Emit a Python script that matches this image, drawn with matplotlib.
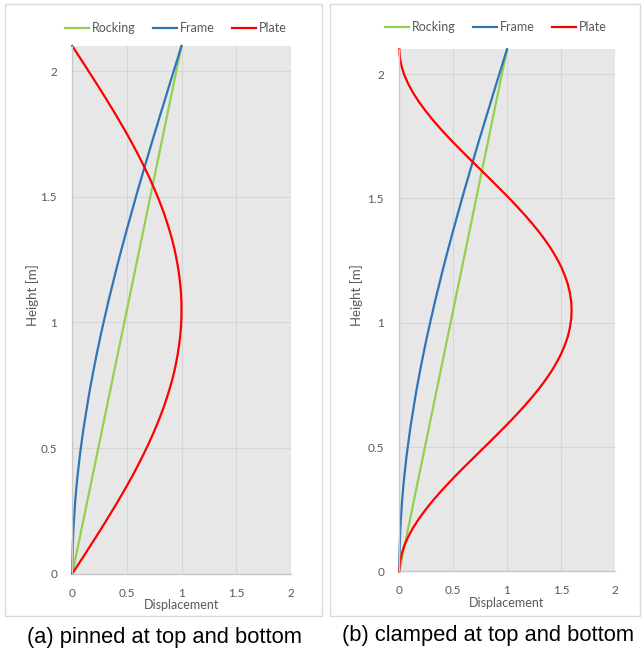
import matplotlib
matplotlib.use("Agg")
import matplotlib.pyplot as plt
from matplotlib.patches import Rectangle
from matplotlib.lines import Line2D

# Heights along the plate [m]
height = [0.000, 0.035, 0.070, 0.105, 0.140, 0.175, 0.210, 0.245, 0.280, 0.315,
          0.350, 0.385, 0.420, 0.455, 0.490, 0.525, 0.560, 0.595, 0.630, 0.665,
          0.700, 0.735, 0.770, 0.805, 0.840, 0.875, 0.910, 0.945, 0.980, 1.015,
          1.050, 1.085, 1.120, 1.155, 1.190, 1.225, 1.260, 1.295, 1.330, 1.365,
          1.400, 1.435, 1.470, 1.505, 1.540, 1.575, 1.610, 1.645, 1.680, 1.715,
          1.750, 1.785, 1.820, 1.855, 1.890, 1.925, 1.960, 1.995, 2.030, 2.065,
          2.100]

# Displacement profiles (normalised)
rocking = [0.000, 0.017, 0.033, 0.050, 0.067, 0.083, 0.100, 0.117, 0.133, 0.150,
           0.167, 0.183, 0.200, 0.217, 0.233, 0.250, 0.267, 0.283, 0.300, 0.317,
           0.333, 0.350, 0.367, 0.383, 0.400, 0.417, 0.433, 0.450, 0.467, 0.483,
           0.500, 0.517, 0.533, 0.550, 0.567, 0.583, 0.600, 0.617, 0.633, 0.650,
           0.667, 0.683, 0.700, 0.717, 0.733, 0.750, 0.767, 0.783, 0.800, 0.817,
           0.833, 0.850, 0.867, 0.883, 0.900, 0.917, 0.933, 0.950, 0.967, 0.983,
           1.000]
frame = [0.000, 0.000, 0.002, 0.004, 0.007, 0.010, 0.015, 0.020, 0.025, 0.032,
         0.039, 0.047, 0.056, 0.065, 0.075, 0.086, 0.097, 0.109, 0.122, 0.135,
         0.148, 0.162, 0.177, 0.192, 0.208, 0.224, 0.241, 0.258, 0.276, 0.294,
         0.313, 0.331, 0.351, 0.371, 0.391, 0.411, 0.432, 0.453, 0.475, 0.496,
         0.519, 0.541, 0.564, 0.586, 0.609, 0.633, 0.656, 0.680, 0.704, 0.728,
         0.752, 0.777, 0.801, 0.826, 0.851, 0.875, 0.900, 0.925, 0.950, 0.975,
         1.000]
plate_pinned = [0.000, 0.052, 0.105, 0.156, 0.208, 0.259, 0.309, 0.358, 0.407, 0.454,
                0.500, 0.545, 0.588, 0.629, 0.669, 0.707, 0.743, 0.777, 0.809, 0.839,
                0.866, 0.891, 0.914, 0.934, 0.951, 0.966, 0.978, 0.988, 0.995, 0.999,
                1.000, 0.999, 0.995, 0.988, 0.978, 0.966, 0.951, 0.934, 0.914, 0.891,
                0.866, 0.839, 0.809, 0.777, 0.743, 0.707, 0.669, 0.629, 0.588, 0.545,
                0.500, 0.454, 0.407, 0.358, 0.309, 0.259, 0.208, 0.156, 0.105, 0.052,
                0.000]
plate_clamped = [0.000, 0.006, 0.022, 0.048, 0.084, 0.128, 0.180, 0.239, 0.303, 0.373,
                 0.447, 0.524, 0.604, 0.686, 0.768, 0.850, 0.931, 1.011, 1.088, 1.162,
                 1.232, 1.298, 1.358, 1.413, 1.461, 1.503, 1.537, 1.565, 1.584, 1.596,
                 1.600, 1.596, 1.584, 1.565, 1.537, 1.503, 1.461, 1.413, 1.358, 1.298,
                 1.232, 1.162, 1.088, 1.011, 0.931, 0.850, 0.768, 0.686, 0.604, 0.524,
                 0.447, 0.373, 0.303, 0.239, 0.180, 0.128, 0.084, 0.048, 0.022, 0.006,
                 0.000]

series_names = ["Rocking", "Frame", "Plate"]
series_colors = ["#92D050", "#2E75B6", "#FF0000"]
x_ticks = [0, 0.5, 1, 1.5, 2]
x_tick_labels = ["0", "0.5", "1", "1.5", "2"]
y_ticks = [0, 0.5, 1, 1.5, 2]
y_tick_labels = ["0", "0.5", "1", "1.5", "2"]
captions = ["(a) pinned at top and bottom", "(b) clamped at top and bottom"]

W, H = 643, 653
fig = plt.figure(figsize=(W / 100, H / 100), dpi=100)
fig.patch.set_facecolor("white")

UI_FONT = ["Lato", "DejaVu Sans"]
TEXT_GRAY = "#595959"


def fbox(x0, y0, x1, y1):
    """Pixel box (top-left origin) -> figure fraction [l, b, w, h]."""
    return [x0 / W, 1 - y1 / H, (x1 - x0) / W, (y1 - y0) / H]


panels = [
    dict(frame_box=(5, 4, 322, 616), plot_box=(72.3, 46, 290.7, 573.7),
         plate=plate_pinned, legend_xy=(176, 28), ylabel_x=33,
         caption_xy=(164, 637), xlabel_y=605),
    dict(frame_box=(330, 4, 640, 616), plot_box=(399.3, 49.3, 614.7, 571.3),
         plate=plate_clamped, legend_xy=(496, 27), ylabel_x=357,
         caption_xy=(488, 635), xlabel_y=603),
]

for p, caption in zip(panels, captions):
    x0, y0, x1, y1 = p["frame_box"]
    fig.patches.append(Rectangle((x0 / W, 1 - y1 / H), (x1 - x0) / W, (y1 - y0) / H,
                                 transform=fig.transFigure, facecolor="white",
                                 edgecolor="#D9D9D9", linewidth=1.0, zorder=-5))

    ax = fig.add_axes(fbox(*p["plot_box"]))
    ax.set_zorder(2)
    ax.set_facecolor("#E7E7E7")
    ax.set_xlim(0, 2)
    ax.set_ylim(0, 2.1)
    ax.set_xticks(x_ticks)
    ax.set_xticklabels(x_tick_labels)
    ax.set_yticks(y_ticks)
    ax.set_yticklabels(y_tick_labels)
    ax.tick_params(axis="x", length=0, labelsize=8.5, labelcolor=TEXT_GRAY, pad=10)
    ax.tick_params(axis="y", length=0, labelsize=8.5, labelcolor=TEXT_GRAY, pad=11)
    for lab in ax.get_xticklabels() + ax.get_yticklabels():
        lab.set_family(UI_FONT)
    ax.grid(True, color="#D6D6D6", linewidth=0.8)
    ax.set_axisbelow(True)
    for side in ["top", "right"]:
        ax.spines[side].set_visible(False)
    for side in ["left", "bottom"]:
        ax.spines[side].set_color("#C8C8C8")
        ax.spines[side].set_linewidth(1.0)

    profiles = [rocking, frame, p["plate"]]
    for name, color, disp in zip(series_names, series_colors, profiles):
        ax.plot(disp, height, color=color, linewidth=1.6, label=name,
                solid_joinstyle="round", clip_on=False)

    px0, py0, px1, py1 = p["plot_box"]
    fig.text(((px0 + px1) / 2) / W, 1 - p["xlabel_y"] / H, "Displacement",
             ha="center", va="center", fontsize=9, color=TEXT_GRAY, family=UI_FONT)
    fig.text(p["ylabel_x"] / W, 1 - 295 / H, "Height [m]", rotation=90,
             ha="center", va="center", fontsize=9.5, color=TEXT_GRAY, family=UI_FONT)

    handles = [Line2D([], [], color=c, linewidth=1.6) for c in series_colors]
    lx, ly = p["legend_xy"]
    fig.legend(handles, series_names, loc="center", ncol=3,
               bbox_to_anchor=(lx / W, 1 - ly / H), frameon=False,
               handlelength=1.9, handletextpad=0.25, columnspacing=1.4,
               prop={"family": UI_FONT, "size": 9}, labelcolor=TEXT_GRAY)

    cx, cy = p["caption_xy"]
    fig.text(cx / W, 1 - cy / H, caption, ha="center", va="center",
             fontsize=15.75, color="black", family=["Liberation Sans", "DejaVu Sans"])

fig.savefig("out.png", dpi=100, facecolor="white")
